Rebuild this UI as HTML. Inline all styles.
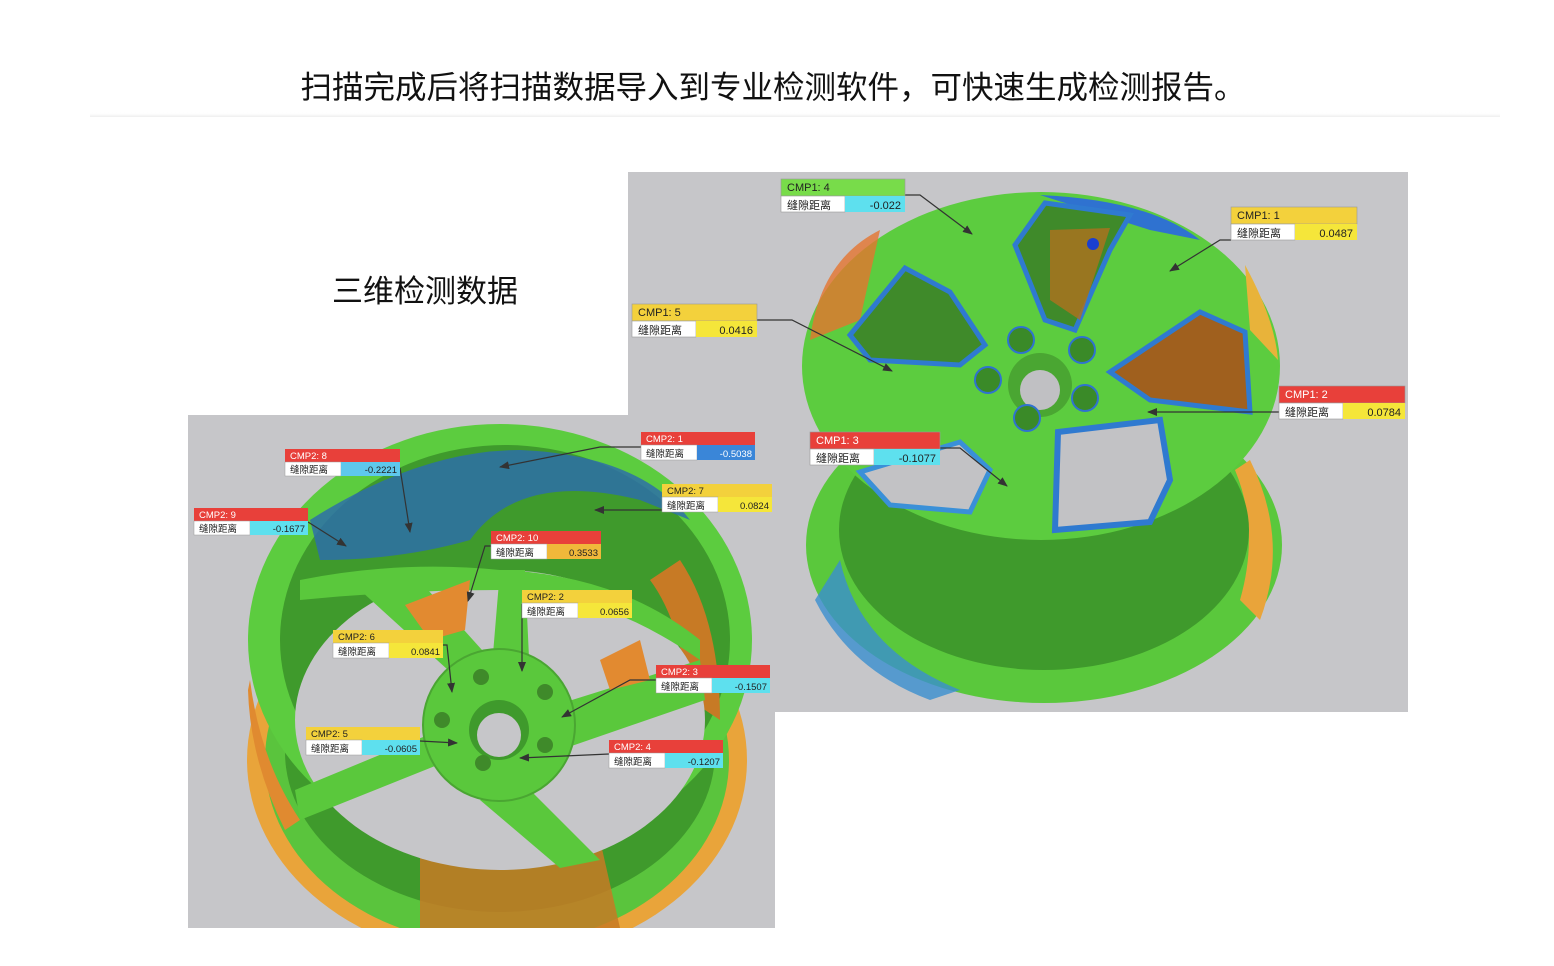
<!DOCTYPE html>
<html><head><meta charset="utf-8"><style>
html,body{margin:0;padding:0;background:#fff;}
body{width:1554px;height:966px;position:relative;overflow:hidden;font-family:"Liberation Sans","Noto Sans CJK SC",sans-serif;}
</style></head><body>
<svg width="1554" height="966" viewBox="0 0 1554 966" xmlns="http://www.w3.org/2000/svg" style="position:absolute;left:0;top:0">
<defs>
<marker id="ar" markerWidth="10" markerHeight="8" refX="9" refY="4" orient="auto" markerUnits="userSpaceOnUse"><path d="M0,0 L10,4 L0,8 z" fill="#333"/></marker>
<linearGradient id="fl" x1="0" x2="0" y1="0" y2="1"><stop offset="0" stop-color="#fff" stop-opacity="0"/><stop offset="1" stop-color="#eee"/></linearGradient>
<clipPath id="cl"><rect x="188" y="415" width="587" height="513"/></clipPath>
<clipPath id="cr"><rect x="628" y="172" width="780" height="540"/></clipPath>
</defs>
<text x="773" y="98" font-size="31.5" text-anchor="middle" fill="#111" font-family="Liberation Sans,Noto Sans CJK SC,sans-serif">扫描完成后将扫描数据导入到专业检测软件，可快速生成检测报告。</text>
<rect x="90" y="112" width="1410" height="5" fill="url(#fl)"/>
<text x="425" y="302" font-size="31" text-anchor="middle" fill="#111" font-family="Liberation Sans,Noto Sans CJK SC,sans-serif">三维检测数据</text>

<!-- right panel -->
<rect x="628" y="172" width="780" height="540" fill="#c6c6c9"/>
<g clip-path="url(#cr)">
<ellipse cx="1044" cy="545" rx="238" ry="158" fill="#5ac83c"/>
<path d="M1250,460 Q1290,540 1260,620 L1240,600 Q1260,530 1235,470 z" fill="#e9a43a"/>
<ellipse cx="1044" cy="530" rx="205" ry="140" fill="#3f9a2c"/>
<path d="M840,560 Q860,650 960,690 L930,700 Q850,670 815,600 z" fill="#3a8fd0" opacity="0.8"/>
<ellipse cx="1041" cy="366" rx="239" ry="174" fill="#5ccc3f"/>
<path d="M810,340 Q820,260 880,230 L860,320 z" fill="#e5742f" opacity="0.8"/>
<path d="M1040,195 Q1150,200 1200,240 L1150,230 z" fill="#2f72d0"/>
<path d="M1245,265 Q1275,320 1278,360 L1250,330 z" fill="#e8b33a"/>
<polygon points="1015,245 1045,203 1130,215 1110,250 1075,330 1045,320" fill="#3f8a2a" stroke="#2f7ad0" stroke-width="5"/>
<polygon points="1050,230 1110,228 1080,320 1050,300" fill="#b0701e" opacity="0.8"/>
<polygon points="850,335 905,268 950,292 985,345 960,365 870,360" fill="#3f8a2a" stroke="#2f7ad0" stroke-width="5"/>
<polygon points="1110,372 1200,312 1245,332 1250,412 1150,400" fill="#a0601e" stroke="#2f7ad0" stroke-width="5"/>
<polygon points="1058,432 1160,420 1170,480 1150,522 1055,530" fill="#c2c2c5" stroke="#2f7ad0" stroke-width="6"/>
<polygon points="860,472 960,442 990,470 970,512 890,505" fill="#c2c2c5" stroke="#3a90d8" stroke-width="5"/>
<circle cx="1040" cy="385" r="32" fill="#4aa632"/>
<circle cx="1040" cy="390" r="20" fill="#c0c0c3"/>
<circle cx="1021" cy="340" r="13" fill="#3a8a28" stroke="#2f72d0" stroke-width="2"/>
<circle cx="1082" cy="350" r="13" fill="#3a8a28" stroke="#2f72d0" stroke-width="2"/>
<circle cx="988" cy="380" r="13" fill="#3a8a28" stroke="#2f72d0" stroke-width="2"/>
<circle cx="1085" cy="398" r="13" fill="#3a8a28" stroke="#2f72d0" stroke-width="2"/>
<circle cx="1027" cy="418" r="13" fill="#3a8a28" stroke="#2f72d0" stroke-width="2"/>
<circle cx="1093" cy="244" r="6" fill="#1a3fd0"/>
</g>

<!-- left panel -->
<rect x="188" y="415" width="587" height="513" fill="#c6c6c9"/>
<g clip-path="url(#cl)">
<ellipse cx="497" cy="760" rx="250" ry="200" fill="#e9a43a"/>
<ellipse cx="497" cy="760" rx="232" ry="185" fill="#5ac43d"/>
<ellipse cx="500" cy="752" rx="215" ry="160" fill="#3f9a2c"/>
<path d="M420,850 Q500,820 600,840 L620,928 L420,928 z" fill="#c77a25" opacity="0.85"/>
<ellipse cx="500" cy="640" rx="252" ry="216" fill="#5ccc3f"/>
<ellipse cx="505" cy="640" rx="225" ry="195" fill="#3f9a2c"/>
<path d="M310,520 Q420,450 520,450 Q640,455 690,520 L640,500 Q520,470 470,540 Q400,560 320,560 z" fill="#2d6fa8" opacity="0.85"/>
<path d="M680,560 Q720,620 720,720 L690,700 Q680,620 650,580 z" fill="#c77a25"/>
<ellipse cx="500" cy="720" rx="205" ry="150" fill="#c6c6c9"/>
<g fill="#5ac83c">
<polygon points="470,690 360,590 410,570 500,670"/>
<polygon points="490,690 500,570 525,570 530,680"/>
<polygon points="540,710 700,660 705,700 560,750"/>
<polygon points="520,780 600,860 560,868 480,800"/>
<polygon points="450,760 300,820 295,790 440,730"/>
</g>
<path d="M300,580 Q400,560 500,570 Q620,575 700,640 L700,660 Q600,590 500,590 Q400,590 300,600 z" fill="#5ac83c"/>
<polygon points="405,605 470,580 465,630 430,640" fill="#e28a30"/>
<polygon points="600,660 640,640 650,680 610,690" fill="#e28a30"/>
<circle cx="499" cy="725" r="76" fill="#5ac83c" stroke="#4aa632" stroke-width="2"/>
<circle cx="499" cy="730" r="30" fill="#3f9a2c"/>
<circle cx="499" cy="735" r="22" fill="#c6c6c9"/>
<g fill="#3f8a2a"><circle cx="481" cy="677" r="8"/><circle cx="545" cy="692" r="8"/><circle cx="545" cy="745" r="8"/><circle cx="483" cy="763" r="8"/><circle cx="442" cy="720" r="8"/></g>
<path d="M250,680 Q260,760 300,820 L285,830 Q250,760 248,690 z" fill="#e08a30"/>
</g>

<g stroke="#333" stroke-width="1.2" fill="none" marker-end="url(#ar)">
<polyline points="905,195 920,195 972,234"/>
<polyline points="1231,240 1220,240 1170,271"/>
<polyline points="757,320 792,320 892,371"/>
<polyline points="1279,412 1148,412"/>
<polyline points="940,448 960,448 1007,486"/>
<polyline points="400,468 410,532"/>
<polyline points="308,522 346,546"/>
<polyline points="641,447 600,447 500,467"/>
<polyline points="662,510 595,510"/>
<polyline points="491,546 485,546 468,601"/>
<polyline points="522,604 522,671"/>
<polyline points="443,645 447,645 452,692"/>
<polyline points="656,680 630,680 562,717"/>
<polyline points="420,741 457,743"/>
<polyline points="609,754 520,758"/>
</g>

<g font-family="Liberation Sans,Noto Sans CJK SC,sans-serif" fill="#222">
<g font-size="11">
<rect x="781" y="179" width="124" height="17" fill="#78dc4a" stroke="#999" stroke-width="0.6"/><text x="787" y="191">CMP1: 4</text>
<rect x="781" y="196" width="64" height="16" fill="#fff" stroke="#999" stroke-width="0.6"/><text x="787" y="209">缝隙距离</text>
<rect x="845" y="196" width="60" height="16" fill="#5ee0ee"/><text x="901" y="209" text-anchor="end">-0.022</text>

<rect x="1231" y="207" width="126" height="17" fill="#f3d13c" stroke="#999" stroke-width="0.6"/><text x="1237" y="219">CMP1: 1</text>
<rect x="1231" y="224" width="64" height="16" fill="#fff" stroke="#999" stroke-width="0.6"/><text x="1237" y="237">缝隙距离</text>
<rect x="1295" y="224" width="62" height="16" fill="#f5e63a"/><text x="1353" y="237" text-anchor="end">0.0487</text>

<rect x="632" y="304" width="125" height="17" fill="#f3d13c" stroke="#999" stroke-width="0.6"/><text x="638" y="316">CMP1: 5</text>
<rect x="632" y="321" width="64" height="16" fill="#fff" stroke="#999" stroke-width="0.6"/><text x="638" y="334">缝隙距离</text>
<rect x="696" y="321" width="61" height="16" fill="#f5e63a"/><text x="753" y="334" text-anchor="end">0.0416</text>

<rect x="1279" y="386" width="126" height="17" fill="#e8403a" stroke="#999" stroke-width="0.6"/><text x="1285" y="398" fill="#fff">CMP1: 2</text>
<rect x="1279" y="403" width="64" height="16" fill="#fff" stroke="#999" stroke-width="0.6"/><text x="1285" y="416">缝隙距离</text>
<rect x="1343" y="403" width="62" height="16" fill="#f5e63a"/><text x="1401" y="416" text-anchor="end">0.0784</text>

<rect x="810" y="432" width="130" height="17" fill="#e8403a" stroke="#999" stroke-width="0.6"/><text x="816" y="444" fill="#fff">CMP1: 3</text>
<rect x="810" y="449" width="64" height="16" fill="#fff" stroke="#999" stroke-width="0.6"/><text x="816" y="462">缝隙距离</text>
<rect x="874" y="449" width="66" height="16" fill="#5ee0ee"/><text x="936" y="462" text-anchor="end">-0.1077</text>
</g>
<g font-size="9.5">
<rect x="285" y="449" width="115" height="13" fill="#e8403a"/><text x="290" y="459" fill="#fff">CMP2: 8</text>
<rect x="285" y="462" width="56" height="14" fill="#fff" stroke="#999" stroke-width="0.5"/><text x="290" y="473">缝隙距离</text>
<rect x="341" y="462" width="59" height="14" fill="#5ec8ec"/><text x="397" y="473" text-anchor="end">-0.2221</text>

<rect x="194" y="508" width="114" height="13" fill="#e8403a"/><text x="199" y="518" fill="#fff">CMP2: 9</text>
<rect x="194" y="521" width="56" height="14" fill="#fff" stroke="#999" stroke-width="0.5"/><text x="199" y="532">缝隙距离</text>
<rect x="250" y="521" width="58" height="14" fill="#5ee0ee"/><text x="305" y="532" text-anchor="end">-0.1677</text>

<rect x="641" y="432" width="114" height="13" fill="#e8403a"/><text x="646" y="442" fill="#fff">CMP2: 1</text>
<rect x="641" y="445" width="56" height="15" fill="#fff" stroke="#999" stroke-width="0.5"/><text x="646" y="457">缝隙距离</text>
<rect x="697" y="445" width="58" height="15" fill="#3a86d8"/><text x="752" y="457" text-anchor="end" fill="#fff">-0.5038</text>

<rect x="662" y="484" width="110" height="13" fill="#f3d13c"/><text x="667" y="494">CMP2: 7</text>
<rect x="662" y="497" width="56" height="15" fill="#fff" stroke="#999" stroke-width="0.5"/><text x="667" y="509">缝隙距离</text>
<rect x="718" y="497" width="54" height="15" fill="#f5e63a"/><text x="769" y="509" text-anchor="end">0.0824</text>

<rect x="491" y="531" width="110" height="13" fill="#e8403a"/><text x="496" y="541" fill="#fff">CMP2: 10</text>
<rect x="491" y="544" width="56" height="15" fill="#fff" stroke="#999" stroke-width="0.5"/><text x="496" y="556">缝隙距离</text>
<rect x="547" y="544" width="54" height="15" fill="#f0b83a"/><text x="598" y="556" text-anchor="end">0.3533</text>

<rect x="522" y="590" width="110" height="13" fill="#f3d13c"/><text x="527" y="600">CMP2: 2</text>
<rect x="522" y="603" width="56" height="15" fill="#fff" stroke="#999" stroke-width="0.5"/><text x="527" y="615">缝隙距离</text>
<rect x="578" y="603" width="54" height="15" fill="#f5e63a"/><text x="629" y="615" text-anchor="end">0.0656</text>

<rect x="333" y="630" width="110" height="13" fill="#f3d13c"/><text x="338" y="640">CMP2: 6</text>
<rect x="333" y="643" width="56" height="15" fill="#fff" stroke="#999" stroke-width="0.5"/><text x="338" y="655">缝隙距离</text>
<rect x="389" y="643" width="54" height="15" fill="#f5e63a"/><text x="440" y="655" text-anchor="end">0.0841</text>

<rect x="656" y="665" width="114" height="13" fill="#e8403a"/><text x="661" y="675" fill="#fff">CMP2: 3</text>
<rect x="656" y="678" width="56" height="15" fill="#fff" stroke="#999" stroke-width="0.5"/><text x="661" y="690">缝隙距离</text>
<rect x="712" y="678" width="58" height="15" fill="#5ee0ee"/><text x="767" y="690" text-anchor="end">-0.1507</text>

<rect x="306" y="727" width="114" height="13" fill="#f3d13c"/><text x="311" y="737">CMP2: 5</text>
<rect x="306" y="740" width="56" height="15" fill="#fff" stroke="#999" stroke-width="0.5"/><text x="311" y="752">缝隙距离</text>
<rect x="362" y="740" width="58" height="15" fill="#5ee0ee"/><text x="417" y="752" text-anchor="end">-0.0605</text>

<rect x="609" y="740" width="114" height="13" fill="#e8403a"/><text x="614" y="750" fill="#fff">CMP2: 4</text>
<rect x="609" y="753" width="56" height="15" fill="#fff" stroke="#999" stroke-width="0.5"/><text x="614" y="765">缝隙距离</text>
<rect x="665" y="753" width="58" height="15" fill="#5ee0ee"/><text x="720" y="765" text-anchor="end">-0.1207</text>
</g>
</g>
</svg>
</body></html>
